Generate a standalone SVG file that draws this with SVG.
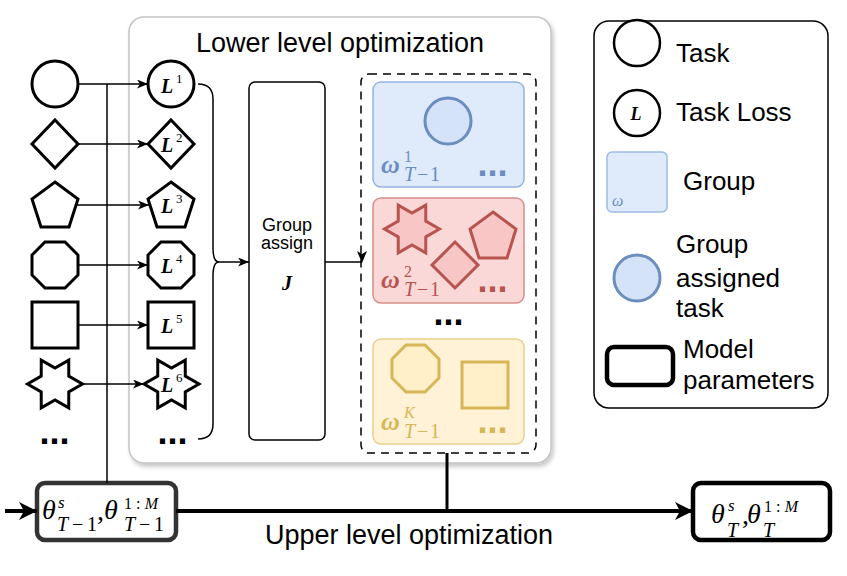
<svg xmlns="http://www.w3.org/2000/svg" width="847" height="576" viewBox="0 0 847 576">
<defs>
<style>
.sans{font-family:"Liberation Sans",Arial,sans-serif;fill:#000}
.m{font-family:"Liberation Serif","DejaVu Serif",serif;font-style:italic}
.mb{font-family:"Liberation Serif","DejaVu Serif",serif;font-style:italic;font-weight:bold}
.n{font-style:normal}
.dots{font-family:"Liberation Sans",Arial,sans-serif;font-weight:bold;font-size:36px}
.sh{fill:#fff;stroke:#000;stroke-width:3}
.ln{fill:none;stroke:#000;stroke-width:1.5}
.blueS{fill:#d4e3f8;stroke:#6c8ebf;stroke-width:3}
.redS{fill:#f8c6c4;stroke:#b85450;stroke-width:3}
.yelS{fill:#fff0c9;stroke:#d6b656;stroke-width:3}
</style>
<marker id="a" viewBox="0 0 11 9" refX="11" refY="4.5" markerWidth="11" markerHeight="9" markerUnits="userSpaceOnUse" orient="auto">
<path d="M0,0 L11,4.5 L0,9 L3,4.5 Z" fill="#000"/>
</marker>
<marker id="A" viewBox="0 0 18 18" refX="18" refY="9" markerWidth="18" markerHeight="18" markerUnits="userSpaceOnUse" orient="auto">
<path d="M0,0 L18,9 L0,18 L5,9 Z" fill="#000"/>
</marker>
<filter id="shadow" x="-5%" y="-5%" width="115%" height="115%">
<feDropShadow dx="2" dy="3" stdDeviation="2" flood-color="#000" flood-opacity="0.22"/>
</filter>
</defs>

<g id="lower-level">
<rect x="129" y="17" width="422" height="446" rx="15" fill="#fff" stroke="#c4c4c4" stroke-width="1.5" filter="url(#shadow)"/>
<text class="sans" x="340" y="52" font-size="27" text-anchor="middle">Lower level optimization</text>
</g>

<g id="legend">
<rect x="594" y="21" width="234" height="387" rx="15" fill="#fff" stroke="#000" stroke-width="1.5"/>
<circle cx="637" cy="43" r="23" fill="#fff" stroke="#000" stroke-width="2.5"/>
<text class="sans" x="676" y="62" font-size="26">Task</text>
<circle cx="637" cy="113" r="23" fill="#fff" stroke="#000" stroke-width="2.5"/>
<text class="mb" x="636" y="120" font-size="18" text-anchor="middle">L</text>
<text class="sans" x="676" y="121" font-size="26">Task Loss</text>
<rect x="607" y="152" width="60" height="60" rx="5" fill="#dfeafb" stroke="#9dbbe3" stroke-width="1.5"/>
<text class="m" x="612" y="206" font-size="16" fill="#6c8ebf">ω</text>
<text class="sans" x="683" y="190" font-size="26">Group</text>
<circle cx="637" cy="278" r="23" class="blueS"/>
<text class="sans" x="676" y="253" font-size="26">Group</text>
<text class="sans" x="676" y="287" font-size="26">assigned</text>
<text class="sans" x="676" y="317" font-size="26">task</text>
<rect x="607" y="347" width="66" height="38" rx="7" fill="#fff" stroke="#000" stroke-width="4.5"/>
<text class="sans" x="683" y="358" font-size="26">Model</text>
<text class="sans" x="683" y="389" font-size="26">parameters</text>
</g>

<g id="tasks">
<circle cx="55" cy="84" r="23" class="sh"/>
<polygon points="55,120 78,144 55,168 32,144" class="sh"/>
<polygon points="55,182 78,199 69,227 41,227 32,199" class="sh"/>
<polygon points="45,242 65,242 78,255 78,275 65,288 45,288 32,275 32,255" class="sh"/>
<rect x="32" y="302" width="46" height="46" class="sh"/>
<polygon points="82.5,384 68.77,391.95 68.75,407.82 55,399.9 41.25,407.82 41.23,391.95 27.5,384 41.23,376.05 41.25,360.18 55,368.1 68.75,360.18 68.77,376.05" class="sh"/>
<text class="dots" x="39.5" y="444">...</text>
</g>

<g id="task-losses">
<circle cx="171" cy="84" r="23" class="sh"/>
<polygon points="171,120 194,144 171,168 148,144" class="sh"/>
<polygon points="171,182 194,199 185,227 157,227 148,199" class="sh"/>
<polygon points="161,242 181,242 194,255 194,275 181,288 161,288 148,275 148,255" class="sh"/>
<rect x="148" y="302" width="46" height="46" class="sh"/>
<polygon points="199,384 185.27,391.95 185.25,407.82 171.5,399.9 157.75,407.82 157.73,391.95 144,384 157.73,376.05 157.75,360.18 171.5,368.1 185.25,360.18 185.27,376.05" class="sh"/>
<g font-size="20">
<text class="mb" x="161" y="93">L</text><text class="m n" x="176" y="83" font-size="13">1</text>
<text class="mb" x="161" y="152">L</text><text class="m n" x="176" y="142" font-size="13">2</text>
<text class="mb" x="161" y="213">L</text><text class="m n" x="176" y="203" font-size="13">3</text>
<text class="mb" x="161" y="273">L</text><text class="m n" x="176" y="263" font-size="13">4</text>
<text class="mb" x="161" y="333">L</text><text class="m n" x="176" y="323" font-size="13">5</text>
<text class="mb" x="161" y="392">L</text><text class="m n" x="176" y="382" font-size="13">6</text>
</g>
<text class="dots" x="157.5" y="444">...</text>
</g>

<g id="group-assign">
<rect x="249" y="82" width="76" height="358" rx="6" fill="#fff" stroke="#000" stroke-width="1.5"/>
<text class="sans" x="287" y="231" font-size="18" text-anchor="middle">Group</text>
<text class="sans" x="287" y="249" font-size="18" text-anchor="middle">assign</text>
<text class="mb" x="287" y="290" font-size="20" text-anchor="middle">J</text>
</g>

<g id="groups">
<rect x="361" y="74" width="175" height="379" rx="8" fill="none" stroke="#000" stroke-width="1.5" stroke-dasharray="8 6"/>
<g id="group1">
<rect x="373" y="82" width="151" height="105" rx="8" fill="#dfeafb" stroke="#92b3df" stroke-width="1.5"/>
<circle cx="448" cy="121" r="23" class="blueS"/>
<text class="mb" x="381" y="173" font-size="26" fill="#6c8ebf">ω</text>
<text class="m n" x="404" y="162" font-size="16" fill="#6c8ebf">1</text>
<text class="m" x="404" y="181" font-size="20" fill="#6c8ebf" textLength="36">T<tspan class="n">−1</tspan></text>
<text class="dots" x="477.5" y="176" fill="#6c8ebf">...</text>
</g>
<g id="group2">
<rect x="373" y="198" width="151" height="105" rx="8" fill="#fad8d7" stroke="#d88e8b" stroke-width="1.5"/>
<polygon points="439.5,229 425.77,236.95 425.75,252.82 412,244.9 398.25,252.82 398.23,236.95 384.5,229 398.23,221.05 398.25,205.18 412,213.1 425.75,205.18 425.77,221.05" class="redS"/>
<polygon points="493,212 516,229 507,258 479,258 470,229" class="redS"/>
<polygon points="455,242 478,265 455,288 432,265" class="redS"/>
<text class="mb" x="381" y="288" font-size="26" fill="#b85450">ω</text>
<text class="m n" x="404" y="277" font-size="16" fill="#b85450">2</text>
<text class="m" x="404" y="296" font-size="20" fill="#b85450" textLength="36">T<tspan class="n">−1</tspan></text>
<text class="dots" x="477.5" y="292" fill="#b85450">...</text>
</g>
<text class="dots" x="433.5" y="325">...</text>
<g id="groupK">
<rect x="373" y="339" width="151" height="105" rx="8" fill="#fff2d6" stroke="#e8cf8c" stroke-width="1.5"/>
<polygon points="406,345 425,345 439,359 439,378 425,392 406,392 392,378 392,359" class="yelS"/>
<rect x="462" y="362" width="46" height="46" class="yelS"/>
<text class="mb" x="381" y="430" font-size="26" fill="#d6b656">ω</text>
<text class="m" x="404" y="418" font-size="16" fill="#d6b656">K</text>
<text class="m" x="404" y="438" font-size="20" fill="#d6b656" textLength="36">T<tspan class="n">−1</tspan></text>
<text class="dots" x="477.5" y="433" fill="#d6b656">...</text>
</g>
</g>

<g id="theta-prev">
<rect x="37" y="483" width="139" height="57" rx="8" fill="#fff" stroke="#333" stroke-width="4.5"/>
<text class="m" x="42" y="519" font-size="28">θ</text>
<text class="m" x="58" y="508" font-size="17">s</text>
<text class="m" x="57" y="531" font-size="20" textLength="40">T<tspan class="n">−1</tspan></text>
<text class="m n" x="97" y="520" font-size="28">,</text>
<text class="m" x="104" y="519" font-size="28">θ</text>
<text class="m" x="124" y="509" font-size="16" textLength="34"><tspan class="n">1:</tspan>M</text>
<text class="m" x="124" y="531" font-size="20" textLength="40">T<tspan class="n">−1</tspan></text>
</g>

<g id="theta-next">
<rect x="693" y="483" width="137" height="57" rx="8" fill="#fff" stroke="#000" stroke-width="4.5"/>
<text class="m" x="711" y="523" font-size="28">θ</text>
<text class="m" x="728" y="511" font-size="17">s</text>
<text class="m" x="727" y="537" font-size="20">T</text>
<text class="m n" x="742" y="524" font-size="28">,</text>
<text class="m" x="747" y="523" font-size="28">θ</text>
<text class="m" x="764" y="512" font-size="16" textLength="34"><tspan class="n">1:</tspan>M</text>
<text class="m" x="763" y="537" font-size="20">T</text>
</g>

<g id="upper-label">
<text class="sans" x="409" y="544" font-size="27" text-anchor="middle">Upper level optimization</text>
</g>

<g id="connectors">
<line x1="107" y1="84" x2="107" y2="483" class="ln"/>
<line x1="78" y1="84" x2="148" y2="84" class="ln" marker-end="url(#a)"/>
<line x1="78" y1="144" x2="148" y2="144" class="ln" marker-end="url(#a)"/>
<line x1="77" y1="205" x2="149" y2="205" class="ln" marker-end="url(#a)"/>
<line x1="78" y1="265" x2="148" y2="265" class="ln" marker-end="url(#a)"/>
<line x1="78" y1="325" x2="148" y2="325" class="ln" marker-end="url(#a)"/>
<line x1="82" y1="384" x2="144" y2="384" class="ln" marker-end="url(#a)"/>
<path d="M198,84 Q213,84 213,99 L213,248 Q213,262 219,262 Q213,262 213,276 L213,424 Q213,439 198,439" class="ln"/>
<line x1="219" y1="262" x2="249" y2="262" class="ln" marker-end="url(#a)"/>
<line x1="325" y1="262" x2="362" y2="262" class="ln"/>
<path d="M357,251 L362,263 L367,251 L362,254 Z" fill="#000"/>
<line x1="447" y1="453" x2="447" y2="511" stroke="#000" stroke-width="3"/>
<line x1="5" y1="511" x2="37" y2="511" stroke="#000" stroke-width="4" marker-end="url(#A)"/>
<line x1="176" y1="511" x2="693" y2="511" stroke="#000" stroke-width="4" marker-end="url(#A)"/>
</g>
</svg>
